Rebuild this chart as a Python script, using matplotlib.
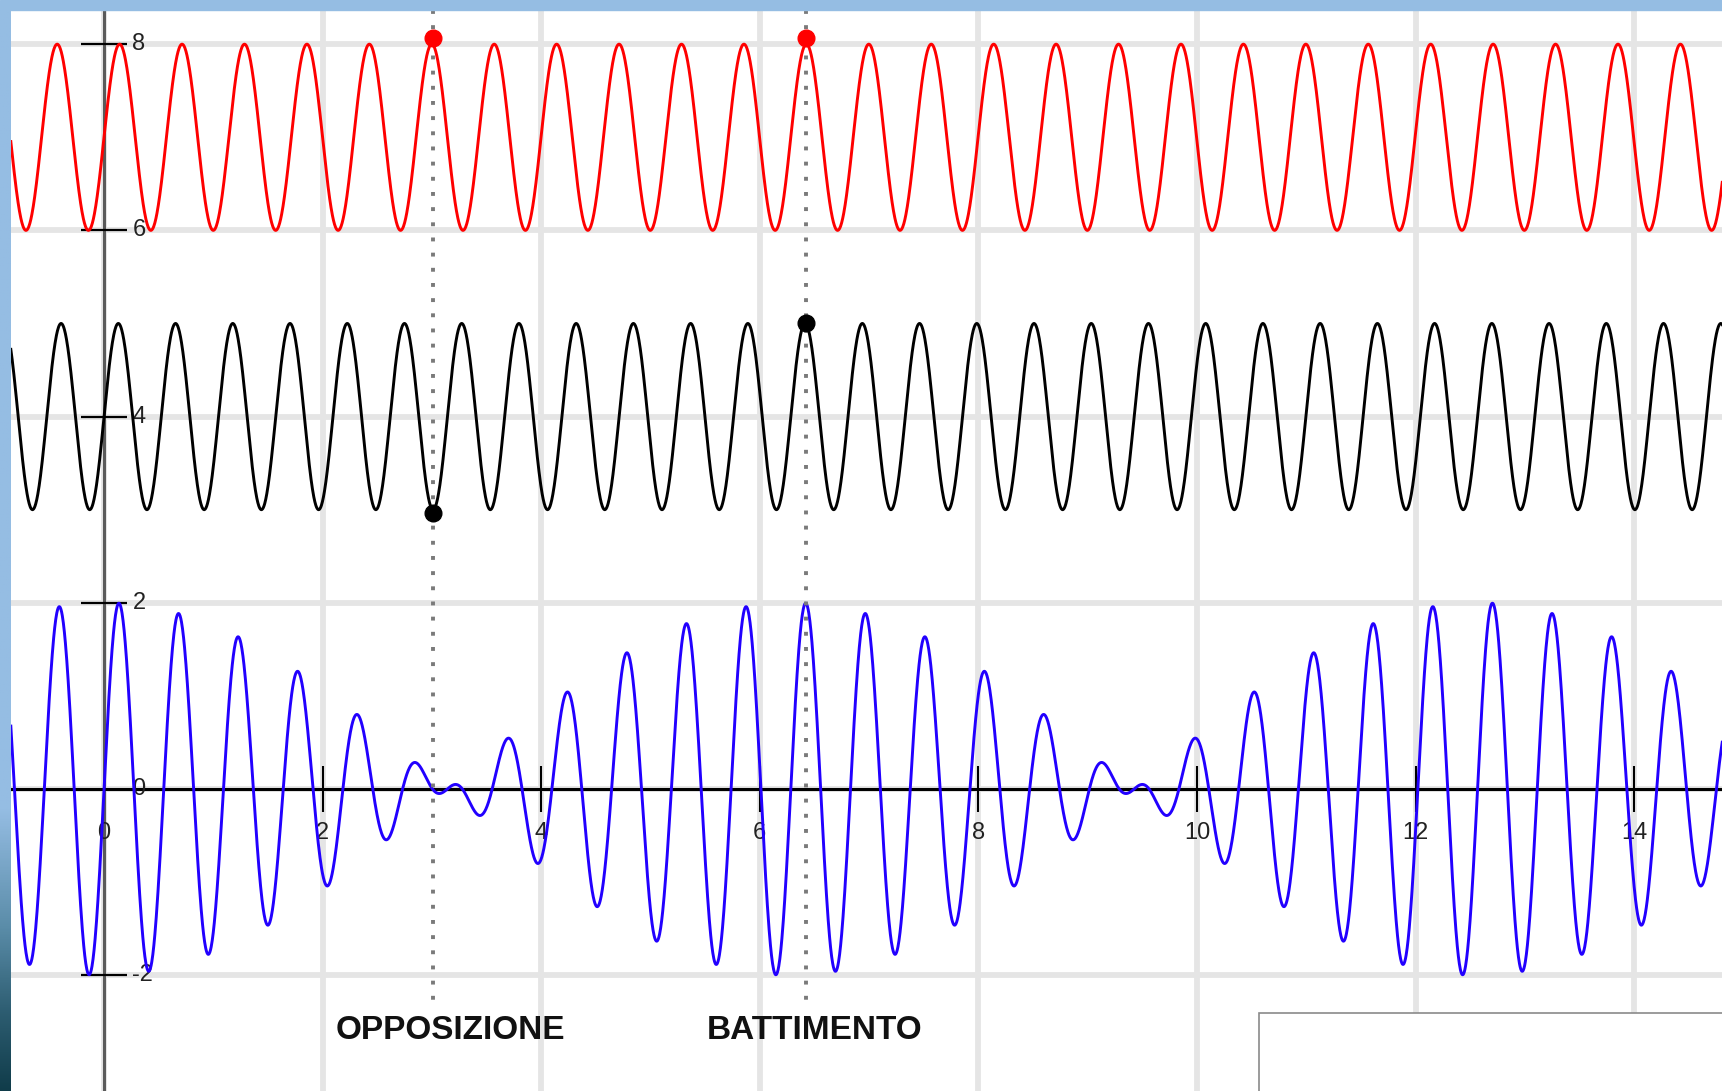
import matplotlib.pyplot as plt
import numpy as np
from matplotlib.patches import Rectangle

# wave parameters (GeoGebra style plot)
red_freq = 11
red_offset = 7
black_freq = 12
black_offset = 4
amplitude = 1

# marked points (x, y)
red_points_x = [3.01, 6.42]
red_points_y = [8.07, 8.07]
black_points_x = [3.01, 6.42]
black_points_y = [2.96, 5.0]
guide_x = [3.01, 6.42]

grid_x = [0, 2, 4, 6, 8, 10, 12, 14]
grid_y = [-2, 0, 2, 4, 6, 8]
xtick_vals = [2, 4, 6, 8, 10, 12, 14]
ytick_vals = [-2, 2, 4, 6, 8]
xtick_labels = ["0", "2", "4", "6", "8", "10", "12", "14"]
ytick_labels = ["-2", "0", "2", "4", "6", "8"]

annotations = ["OPPOSIZIONE", "BATTIMENTO"]

W, H = 1722, 1091
fig = plt.figure(figsize=(W / 100, H / 100), dpi=100)
fig.patch.set_facecolor("white")

band_left = 11
band_top = 10
ax = fig.add_axes([band_left / W, 0, (W - band_left) / W, (H - band_top) / H])
ax.set_xlim(-0.851, 14.803)
ax.set_ylim(-3.244, 8.367)
ax.set_facecolor("white")
for s in ax.spines.values():
    s.set_visible(False)
ax.set_xticks([])
ax.set_yticks([])

# grid
for gx in grid_x:
    ax.axvline(gx, color="#e5e5e5", lw=4.2, zorder=0)
for gy in grid_y:
    ax.axhline(gy, color="#e5e5e5", lw=4.2, zorder=0)

# axes lines
ax.axvline(0, color="#5a5a5a", lw=2.2, zorder=1)
ax.axhline(0, color="black", lw=2.2, zorder=1)
ax.plot(xtick_vals, np.zeros(len(xtick_vals)), ls="none", marker="|",
        ms=33, mew=1.5, color="black", zorder=1)
ax.plot(np.zeros(len(ytick_vals)), ytick_vals, ls="none", marker="_",
        ms=33, mew=1.6, color="black", zorder=1)

# tick labels
for gx, lab in zip(grid_x, xtick_labels):
    ax.annotate(lab, (gx, 0), xytext=(0, -31.5), textcoords="offset points",
                ha="center", va="center", fontsize=17, color="#222222",
                family="Liberation Sans", zorder=1)
for gy, lab in zip(grid_y, ytick_labels):
    ax.annotate(lab, (0, gy), xytext=(20.5, 0), textcoords="offset points",
                ha="left", va="center", fontsize=17, color="#222222",
                family="Liberation Sans", zorder=1)

# curves
x = np.linspace(-0.9, 14.9, 5000)
red = red_offset + amplitude * np.sin(red_freq * x)
black = black_offset + amplitude * np.sin(black_freq * x)
blue = amplitude * np.sin(red_freq * x) + amplitude * np.sin(black_freq * x)
ax.plot(x, red, color="#ff0000", lw=2.1, zorder=3)
ax.plot(x, black, color="black", lw=2.1, zorder=3)
ax.plot(x, blue, color="#2200ff", lw=2.1, zorder=3)

# dotted guides
for gx in guide_x:
    ax.plot([gx, gx], [8.367, -2.28], color="#7a7a7a", lw=2.8,
            ls=(0, (1.0, 2.9)), dash_capstyle="butt", zorder=4)

ax.plot(red_points_x, red_points_y, "o", color="#ff0000", ms=12, zorder=5)
ax.plot(black_points_x, black_points_y, "o", color="black", ms=12, zorder=5)

ax.text(3.17, -2.59, annotations[0], ha="center", va="center", fontsize=24,
        fontweight="bold", family="Liberation Sans", color="#111111", zorder=6)
ax.text(6.50, -2.59, annotations[1], ha="center", va="center", fontsize=24,
        fontweight="bold", family="Liberation Sans", color="#111111", zorder=6)

# empty box bottom right
ax.add_patch(Rectangle((0.7294, -0.01), 0.3, 0.0822, transform=ax.transAxes,
                       facecolor="white", edgecolor="#8a8a8a", lw=1.2,
                       zorder=7, clip_on=False))

# window frame: top band and left gradient band
fig.patches.append(Rectangle((0, (H - band_top) / H), 1, band_top / H,
                             transform=fig.transFigure, color="#95bde3"))
band = fig.add_axes([0, 0, band_left / W, (H - band_top) / H])
pos = np.linspace(0, 1, 400)
stops = [0.0, 0.74, 0.85, 0.93, 1.0]
r = np.interp(pos, stops, [0x95, 0x95, 0x5a, 0x2c, 0x10]) / 255
g = np.interp(pos, stops, [0xbd, 0xbd, 0x8c, 0x5c, 0x3c]) / 255
b = np.interp(pos, stops, [0xe3, 0xe3, 0xa8, 0x70, 0x4a]) / 255
grad = np.stack([r, g, b], axis=1)[:, None, :]
band.imshow(grad, aspect="auto", extent=[0, 1, 1, 0])
band.set_axis_off()

fig.savefig("out.png", dpi=100)
